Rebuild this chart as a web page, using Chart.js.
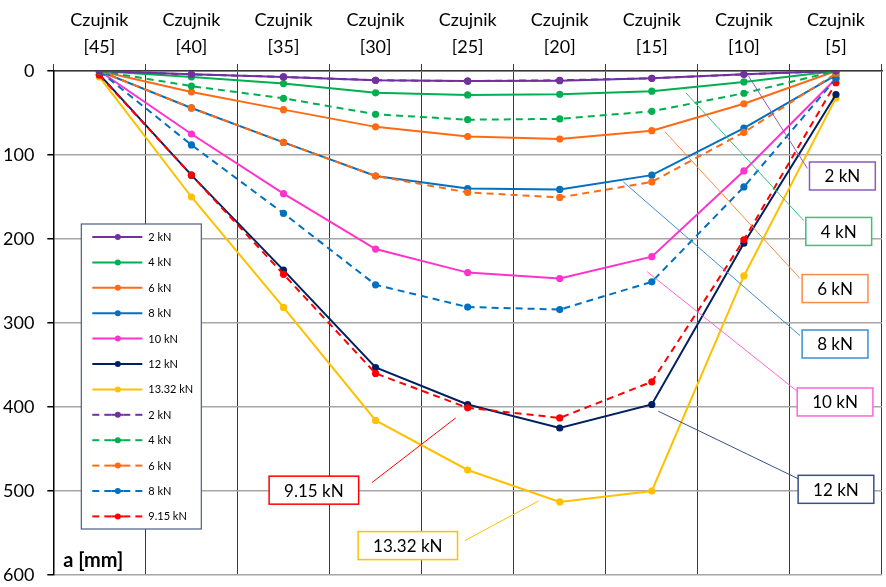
<!DOCTYPE html>
<html>
<head>
<meta charset="utf-8">
<script src="https://cdn.jsdelivr.net/npm/chart.js@4.4.0/dist/chart.umd.min.js"></script>
<style>
  body { margin: 0; background: #fff; }
  #wrap { width: 886px; height: 587px; }
</style>
</head>
<body>
<div id="wrap"><canvas id="chart" width="886" height="587"></canvas></div>
<script>
// sensor numbers along the beam (top axis)
const sensors = [45, 40, 35, 30, 25, 20, 15, 10, 5];
const yTicks = [0, 100, 200, 300, 400, 500, 600];

// deflection a [mm] per load step, solid series
const a2 = [0, 4, 7, 11, 12, 11.5, 8.7, 4, 0];
const a4 = [0, 7, 15, 26, 28.5, 27.7, 24, 13, 0];
const a6 = [0, 25, 46, 66.5, 78, 81, 71, 39, 0];
const a8 = [0, 44, 85, 125, 140, 141, 124, 68, 5];
const a10 = [0, 75, 146, 212, 240, 247, 221, 119, 9];
const a12 = [4, 124, 237, 353, 397, 425, 397, 205, 28];
const a1332 = [7, 150, 281.5, 416, 475, 513, 500, 244, 32];

// dashed series
const b2 = [0, 4, 7, 11, 12, 11, 8.7, 4, 0];
const b4 = [0, 18, 32.5, 51.5, 58, 57, 48, 26.5, 0];
const b6 = [0, 44, 85, 125, 144.5, 150.5, 132, 73, 3];
const b8 = [0, 88, 169.5, 254.5, 281, 284, 251, 138, 9];
const b915 = [5, 124, 242, 360, 401, 413, 370, 201, 14];

const colors = {
  purple: '#7030A0', green: '#00B050', orange: '#FF6A13', blue: '#0070C0',
  pink: '#FF33CC', navy: '#002060', yellow: '#FFC000', red: '#FF0000'
};

const mk = (label, data, color, dashed) => ({
  label, data,
  borderColor: color, backgroundColor: color,
  pointBackgroundColor: color, pointBorderColor: color,
  borderWidth: 2, pointRadius: 3.6, pointBorderWidth: 0,
  borderDash: dashed ? [7, 5] : [],
  tension: 0, order: dashed ? 0 : 1
});

const datasets = [
  mk('2 kN', a2, colors.purple, false),
  mk('4 kN', a4, colors.green, false),
  mk('6 kN', a6, colors.orange, false),
  mk('8 kN', a8, colors.blue, false),
  mk('10 kN', a10, colors.pink, false),
  mk('12 kN', a12, colors.navy, false),
  mk('13.32 kN', a1332, colors.yellow, false),
  mk('2 kN', b2, colors.purple, true),
  mk('4 kN', b4, colors.green, true),
  mk('6 kN', b6, colors.orange, true),
  mk('8 kN', b8, colors.blue, true),
  mk('9.15 kN', b915, colors.red, true)
];

// callout labels: box centre and leader line, in (category index, mm)
const callouts = [
  { text: '2 kN', color: '#8A5CB8', box: [8.07, 125], from: [7.05, 6], to: [7.69, 116] },
  { text: '4 kN', color: '#3CC07A', box: [8.03, 191], from: [6.37, 26], to: [7.65, 178] },
  { text: '6 kN', color: '#F98B4A', box: [7.99, 259], from: [6.14, 72], to: [7.61, 247] },
  { text: '8 kN', color: '#3C8FD0', box: [7.99, 325], from: [5.69, 132], to: [7.61, 315] },
  { text: '10 kN', color: '#FF66D9', box: [7.99, 394], from: [5.95, 239], to: [7.61, 384] },
  { text: '12 kN', color: '#3A4F86', box: [8.0, 498], from: [6.07, 405], to: [7.62, 487] },
  { text: '9.15 kN', color: '#FF0000', box: [2.33, 499], from: [2.96, 490], to: [3.87, 413] },
  { text: '13.32 kN', color: '#FFC000', box: [3.35, 565], from: [3.97, 559], to: [4.77, 512] }
];

const FONT = 'Lato, "Open Sans", sans-serif';

const overlay = {
  id: 'overlay',
  afterDatasetsDraw(chart) {
    const ctx = chart.ctx;
    const xs = chart.scales.x, ys = chart.scales.y;
    const area = chart.chartArea;
    ctx.save();

    // callouts
    callouts.forEach(c => {
      ctx.strokeStyle = c.color;
      ctx.lineWidth = 1;
      ctx.setLineDash([]);
      ctx.beginPath();
      ctx.moveTo(xs.getPixelForValue(c.from[0]), ys.getPixelForValue(c.from[1]));
      ctx.lineTo(xs.getPixelForValue(c.to[0]), ys.getPixelForValue(c.to[1]));
      ctx.stroke();

      ctx.font = '17px ' + FONT;
      const w = ctx.measureText(c.text).width + 30;
      const h = 28;
      const cx = xs.getPixelForValue(c.box[0]);
      const cy = ys.getPixelForValue(c.box[1]);
      ctx.fillStyle = '#fff';
      ctx.fillRect(cx - w / 2, cy - h / 2, w, h);
      ctx.lineWidth = 1.5;
      ctx.strokeRect(cx - w / 2, cy - h / 2, w, h);
      ctx.fillStyle = '#000';
      ctx.textAlign = 'center';
      ctx.textBaseline = 'middle';
      ctx.fillText(c.text, cx, cy + 1);
    });

    // legend box inside plot area
    const lx = area.left + 28, ly = area.top + 153, lw = 120, lh = 305;
    ctx.fillStyle = '#fff';
    ctx.fillRect(lx, ly, lw, lh);
    ctx.strokeStyle = '#4A5C85';
    ctx.lineWidth = 1.2;
    ctx.strokeRect(lx, ly, lw, lh);
    ctx.font = '11px ' + FONT;
    ctx.textAlign = 'left';
    ctx.textBaseline = 'middle';
    chart.data.datasets.forEach((ds, i) => {
      const y = ly + 13 + i * 25.4;
      ctx.strokeStyle = ds.borderColor;
      ctx.lineWidth = 2;
      if (ds.borderDash.length) {
        [[0, 7], [12, 19], [31, 38], [43, 50]].forEach(seg => {
          ctx.beginPath();
          ctx.moveTo(lx + 11 + seg[0], y);
          ctx.lineTo(lx + 11 + seg[1], y);
          ctx.stroke();
        });
        ctx.beginPath();
        ctx.moveTo(lx + 30, y); ctx.lineTo(lx + 42, y); ctx.stroke();
      } else {
        ctx.beginPath();
        ctx.moveTo(lx + 11, y);
        ctx.lineTo(lx + 61, y);
        ctx.stroke();
      }
      ctx.fillStyle = ds.borderColor;
      ctx.beginPath();
      ctx.arc(lx + 36.5, y, 3, 0, Math.PI * 2);
      ctx.fill();
      ctx.fillStyle = '#000';
      ctx.fillText(ds.label, lx + 67, y + 0.5);
    });

    // y axis title
    ctx.font = 'bold 20px ' + FONT;
    ctx.fillStyle = '#000';
    ctx.textAlign = 'left';
    ctx.textBaseline = 'middle';
    ctx.fillText('a [mm]', area.left + 10, area.bottom - 14);
    ctx.restore();
  }
};

new Chart(document.getElementById('chart'), {
  type: 'line',
  data: {
    labels: sensors.map(s => ['Czujnik', '[' + s + ']']),
    datasets: datasets
  },
  options: {
    responsive: false,
    animation: false,
    layout: { padding: { left: -10, right: 1, top: 4, bottom: 0 } },
    plugins: { legend: { display: false }, tooltip: { enabled: false } },
    scales: {
      x: {
        position: 'top',
        offset: true,
        grid: { offset: true, color: '#3a3a3a', lineWidth: 1, tickLength: 7, tickColor: '#3a3a3a' },
        border: { color: '#3a3a3a', width: 1.5 },
        ticks: {
          color: '#000', padding: 3, maxRotation: 0, autoSkip: false,
          font: { family: FONT, size: 18, lineHeight: 1.5 }
        }
      },
      y: {
        reverse: true,
        min: 0, max: 600,
        afterBuildTicks: axis => { axis.ticks = yTicks.map(v => ({ value: v })); },
        // tick padding would otherwise push the plot bottom up
        afterFit: axis => { axis.paddingBottom = 12; },
        grid: { color: '#A6A6A6', lineWidth: 1.5, tickLength: 6, tickColor: '#000' },
        border: { color: '#000', width: 1.5 },
        ticks: {
          color: '#000', padding: 13,
          font: { family: FONT, size: 18 }
        }
      }
    }
  },
  plugins: [overlay]
});
</script>
</body>
</html>
